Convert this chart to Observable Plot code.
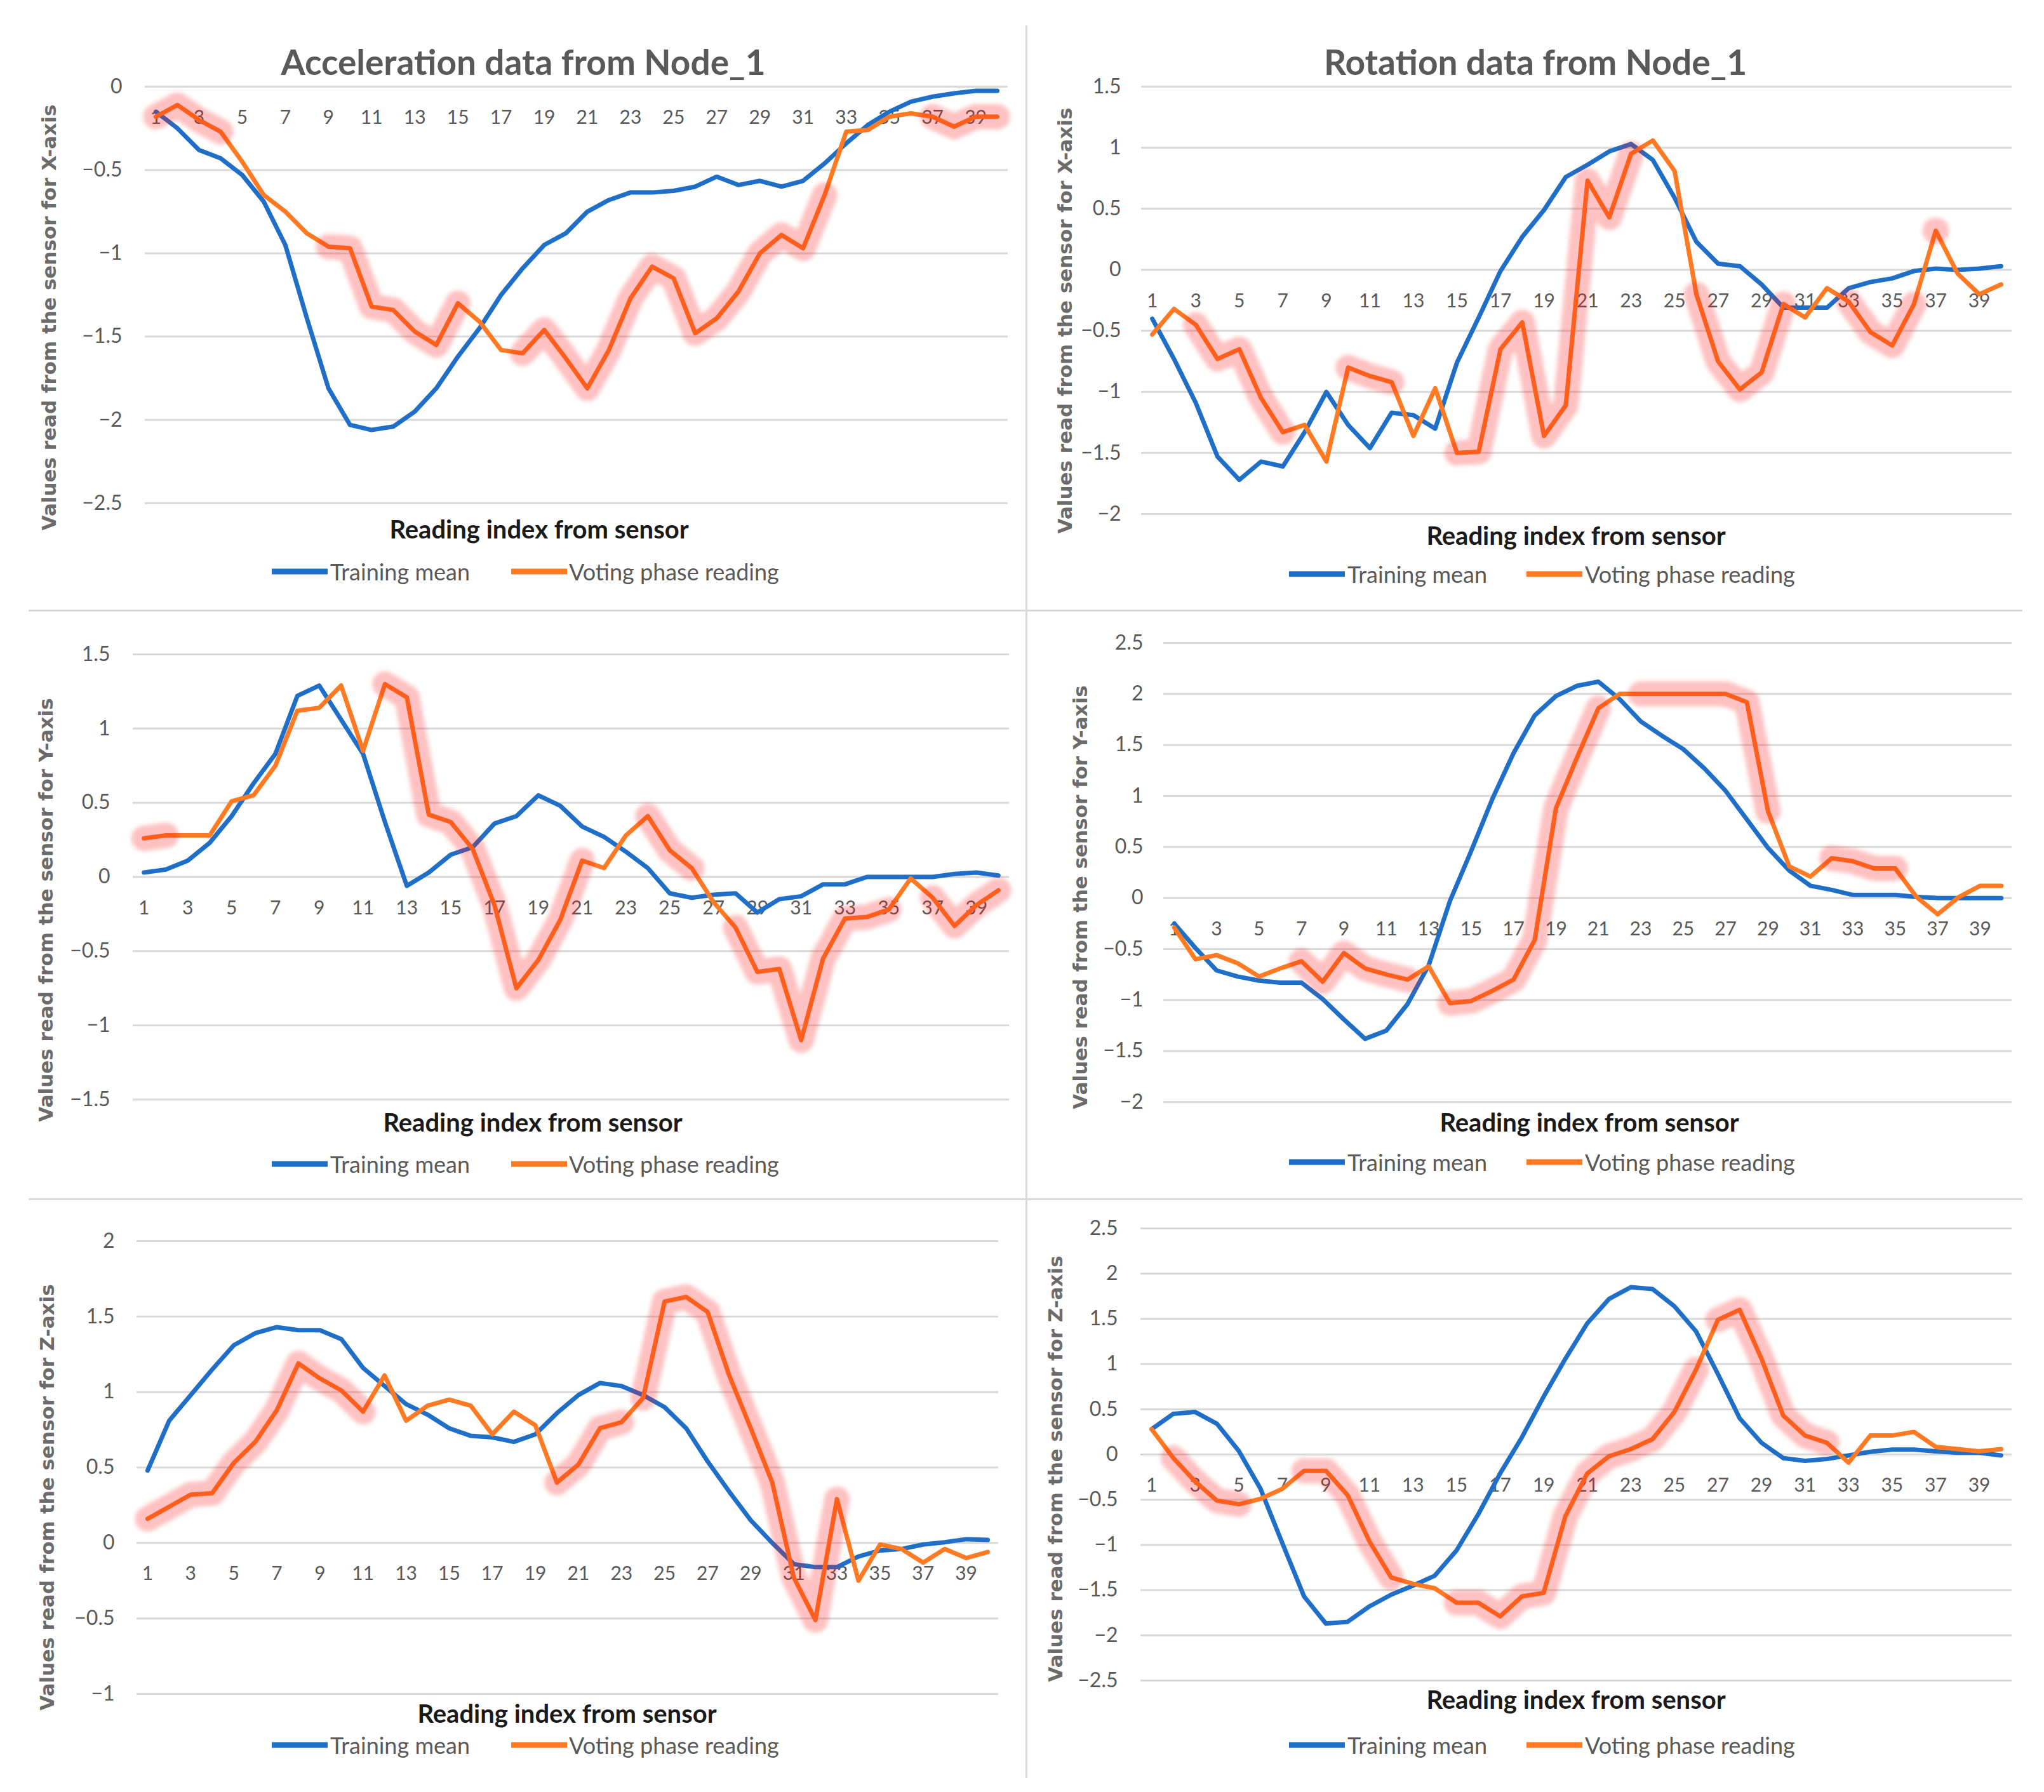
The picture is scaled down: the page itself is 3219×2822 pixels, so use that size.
<!DOCTYPE html>
<html><head><meta charset="utf-8">
<script src="https://cdn.jsdelivr.net/npm/d3@7"></script>
<script src="https://cdn.jsdelivr.net/npm/@observablehq/plot@0.6"></script>
<style>
html,body{margin:0;padding:0;background:#fff;}
#page{position:relative;width:3219px;height:2822px;overflow:hidden;background:#fff;}
.abs{position:absolute;white-space:nowrap;line-height:1;}
.title{font-family:Lato,sans-serif;font-weight:700;font-size:55px;color:#595959;transform:translate(-50%,-50%);}
.xtitle{font-family:Lato,sans-serif;font-weight:700;font-size:40px;color:#1a1a1a;transform:translate(-50%,-50%);}
.ytitle{font-family:"DejaVu Sans",sans-serif;font-weight:700;font-size:31px;color:#6b6b6b;transform:translate(-50%,-50%) rotate(-90deg);}
.leg{font-family:Lato,sans-serif;font-size:36px;color:#595959;transform:translateY(-50%);}
.sw{position:absolute;height:9px;transform:translateY(-50%);}
.rule{position:absolute;background:#d9d9d9;}
svg{position:absolute;}
</style></head><body><div id="page"></div>
<script>
// ---------- data ----------
const readingIndex = [1,2,3,4,5,6,7,8,9,10,11,12,13,14,15,16,17,18,19,20,21,22,23,24,25,26,27,28,29,30,31,32,33,34,35,36,37,38,39,40];
const xTickLabels = [1,3,5,7,9,11,13,15,17,19,21,23,25,27,29,31,33,35,37,39];
const seriesNames = ["Training mean", "Voting phase reading"];

const accXMean = [-0.15,-0.25,-0.38,-0.43,-0.53,-0.69,-0.95,-1.39,-1.81,-2.03,-2.06,-2.04,-1.95,-1.81,-1.62,-1.45,-1.25,-1.09,-0.95,-0.88,-0.75,-0.68,-0.635,-0.635,-0.625,-0.60,-0.54,-0.59,-0.565,-0.60,-0.565,-0.46,-0.34,-0.23,-0.15,-0.09,-0.06,-0.04,-0.025,-0.025];
const accXVote = [-0.18,-0.11,-0.20,-0.27,-0.45,-0.65,-0.75,-0.88,-0.96,-0.97,-1.32,-1.34,-1.47,-1.55,-1.30,-1.41,-1.58,-1.60,-1.46,-1.63,-1.81,-1.58,-1.27,-1.08,-1.15,-1.48,-1.39,-1.23,-1.00,-0.89,-0.97,-0.65,-0.27,-0.26,-0.18,-0.16,-0.18,-0.24,-0.18,-0.18];
const rotXMean = [-0.40,-0.73,-1.09,-1.53,-1.72,-1.57,-1.61,-1.33,-1.00,-1.27,-1.46,-1.17,-1.19,-1.30,-0.76,-0.39,-0.01,0.27,0.49,0.76,0.86,0.97,1.03,0.90,0.59,0.23,0.05,0.03,-0.12,-0.31,-0.31,-0.31,-0.15,-0.10,-0.07,-0.01,0.01,0.0,0.01,0.03];
const rotXVote = [-0.53,-0.32,-0.45,-0.73,-0.65,-1.05,-1.33,-1.27,-1.57,-0.80,-0.87,-0.92,-1.36,-0.97,-1.50,-1.49,-0.65,-0.43,-1.36,-1.11,0.73,0.43,0.95,1.06,0.81,-0.20,-0.75,-0.98,-0.84,-0.28,-0.39,-0.15,-0.26,-0.51,-0.62,-0.28,0.32,-0.03,-0.20,-0.12];
const accYMean = [0.03,0.05,0.11,0.23,0.41,0.63,0.83,1.22,1.29,1.06,0.83,0.37,-0.06,0.03,0.15,0.20,0.36,0.41,0.55,0.48,0.34,0.27,0.17,0.06,-0.11,-0.14,-0.12,-0.11,-0.24,-0.15,-0.13,-0.05,-0.05,0.0,0.0,0.0,0.0,0.02,0.03,0.01];
const accYVote = [0.26,0.28,0.28,0.28,0.51,0.55,0.75,1.12,1.14,1.29,0.85,1.30,1.21,0.42,0.37,0.19,-0.19,-0.75,-0.56,-0.29,0.11,0.06,0.28,0.41,0.18,0.06,-0.17,-0.34,-0.64,-0.62,-1.10,-0.55,-0.28,-0.27,-0.22,-0.01,-0.14,-0.33,-0.19,-0.09];
const rotYMean = [-0.25,-0.49,-0.71,-0.77,-0.81,-0.83,-0.83,-0.99,-1.19,-1.38,-1.30,-1.04,-0.66,-0.03,0.46,0.97,1.42,1.79,1.98,2.08,2.12,1.95,1.73,1.59,1.46,1.27,1.05,0.77,0.49,0.27,0.12,0.08,0.03,0.03,0.03,0.01,0.0,0.0,0.0,0.0];
const rotYVote = [-0.29,-0.60,-0.56,-0.64,-0.77,-0.69,-0.62,-0.82,-0.54,-0.69,-0.75,-0.80,-0.67,-1.03,-1.01,-0.91,-0.80,-0.41,0.88,1.38,1.86,2.0,2.0,2.0,2.0,2.0,2.0,1.92,0.85,0.31,0.21,0.39,0.36,0.29,0.29,0.01,-0.16,0.01,0.12,0.12];
const accZMean = [0.48,0.81,0.98,1.15,1.31,1.39,1.43,1.41,1.41,1.35,1.16,1.04,0.92,0.85,0.76,0.71,0.70,0.67,0.72,0.86,0.98,1.06,1.04,0.98,0.90,0.76,0.54,0.34,0.15,0.0,-0.14,-0.16,-0.16,-0.09,-0.05,-0.04,-0.01,0.005,0.025,0.02];
const accZVote = [0.16,0.24,0.32,0.33,0.53,0.67,0.88,1.19,1.09,1.01,0.87,1.11,0.81,0.91,0.95,0.91,0.72,0.87,0.78,0.40,0.52,0.76,0.80,0.96,1.60,1.63,1.53,1.11,0.76,0.40,-0.23,-0.51,0.29,-0.25,-0.01,-0.04,-0.13,-0.04,-0.10,-0.06];
const rotZMean = [0.28,0.45,0.47,0.34,0.04,-0.38,-0.98,-1.57,-1.87,-1.85,-1.68,-1.55,-1.45,-1.34,-1.06,-0.66,-0.21,0.19,0.64,1.06,1.45,1.72,1.85,1.83,1.64,1.36,0.89,0.40,0.13,-0.04,-0.07,-0.05,-0.01,0.03,0.055,0.055,0.035,0.02,0.02,-0.01];
const rotZVote = [0.28,-0.04,-0.30,-0.51,-0.55,-0.49,-0.38,-0.18,-0.18,-0.45,-0.96,-1.36,-1.43,-1.48,-1.64,-1.64,-1.79,-1.57,-1.53,-0.68,-0.21,-0.02,0.06,0.17,0.47,0.94,1.49,1.60,1.06,0.43,0.21,0.13,-0.09,0.21,0.21,0.25,0.085,0.06,0.035,0.06];

// hand-drawn highlight spans over the voting reading (reading index ranges)
const accXMarks = [[1,4],[9,15],[18,32],[37,40]];
const rotXMarks = [[3,7],[10,12],[15,23],[26,30],[33,36],[37,37]];
const accYMarks = [[1,2],[12,21],[24,26],[28,35],[37,40]];
const rotYMarks = [[7,12],[14,21],[23,29],[32,35]];
const accZMarks = [[1,11],[20,23],[24,33]];
const rotZMarks = [[2,5],[8,12],[15,26],[27,32]];

const ticksX = [-2.5,-2,-1.5,-1,-0.5,0];
const ticksRotX = [-2,-1.5,-1,-0.5,0,0.5,1,1.5];
const ticksAccY = [-1.5,-1,-0.5,0,0.5,1,1.5];
const ticksRotY = [-2,-1.5,-1,-0.5,0,0.5,1,1.5,2,2.5];
const ticksAccZ = [-1,-0.5,0,0.5,1,1.5,2];
const ticksRotZ = [-2.5,-2,-1.5,-1,-0.5,0,0.5,1,1.5,2,2.5];

const titles = ["Acceleration data from Node_1", "Rotation data from Node_1"];
const xTitle = "Reading index from sensor";
const yTitles = ["Values read from the sensor for X-axis","Values read from the sensor for X-axis","Values read from the sensor for Y-axis","Values read from the sensor for Y-axis","Values read from the sensor for Z-axis","Values read from the sensor for Z-axis"];

// ---------- layout ----------
const BLUE = "#1f6fc8", ORANGE = "#ff7a22";
const panels = [
  {mean: accXMean, vote: accXVote, marks: accXMarks, ticks: ticksX, px: 0, x0: 228, x1: 1587, y0: 136, y1: 792, pad: 36, title: titles[0], tx: 824, ty: 97, xtx: 849, xty: 833, ytx: 77, yty: 500, ly: 900},
  {mean: rotXMean, vote: rotXVote, marks: rotXMarks, ticks: ticksRotX, px: 1610, x0: 1797, x1: 3168, y0: 136, y1: 809, pad: 32, title: titles[1], tx: 2418, ty: 97, xtx: 2482, xty: 843, ytx: 1677, yty: 505, ly: 904},
  {mean: accYMean, vote: accYVote, marks: accYMarks, ticks: ticksAccY, px: 0, x0: 209, x1: 1589, y0: 1030, y1: 1731, pad: 36, xtx: 839, xty: 1767, ytx: 72, yty: 1433, ly: 1833},
  {mean: rotYMean, vote: rotYVote, marks: rotYMarks, ticks: ticksRotY, px: 1610, x0: 1832, x1: 3168, y0: 1012, y1: 1735, pad: 32, xtx: 2503, xty: 1767, ytx: 1701, yty: 1413, ly: 1830},
  {mean: accZMean, vote: accZVote, marks: accZMarks, ticks: ticksAccZ, px: 0, x0: 215, x1: 1572, y0: 1954, y1: 2667, pad: 35, xtx: 893, xty: 2698, ytx: 74, yty: 2358, ly: 2748},
  {mean: rotZMean, vote: rotZVote, marks: rotZMarks, ticks: ticksRotZ, px: 1610, x0: 1796, x1: 3168, y0: 1934, y1: 2646, pad: 36, xtx: 2482, xty: 2676, ytx: 1662, yty: 2313, ly: 2748}
];

const page = document.getElementById("page");
function add(cls, txt, left, top, style) {
  const d = document.createElement("div");
  d.className = "abs " + cls;
  d.textContent = txt;
  d.style.left = left + "px"; d.style.top = top + "px";
  if (style) Object.assign(d.style, style);
  page.appendChild(d);
  return d;
}
function rule(left, top, w, h) {
  const d = document.createElement("div");
  d.className = "rule";
  Object.assign(d.style, {left: left + "px", top: top + "px", width: w + "px", height: h + "px"});
  page.appendChild(d);
}
rule(1615, 40, 3, 2760);
rule(45, 960, 3140, 3);
rule(45, 1887, 3140, 3);

const fmt = d => d === 0 ? "0" : (d < 0 ? "\u2212" : "") + Math.abs(d);

panels.forEach((p, k) => {
  const mt = 30, mb = 30;
  const W = p.px === 0 ? 1610 : 1609;
  const H = (p.y1 - p.y0) + mt + mb;
  const meanRows = readingIndex.map((i, j) => ({i, v: p.mean[j]}));
  const voteRows = readingIndex.map((i, j) => ({i, v: p.vote[j]}));
  const hl = p.marks.flatMap(([a, b], s) => readingIndex.filter(i => i >= a && i <= b).map(i => ({i, v: p.vote[i - 1], seg: s, n: b - a})));
  const hlLines = hl.filter(d => d.n > 0);
  const hlDots = hl.filter(d => d.n === 0);
  const svg = Plot.plot({
    width: W, height: H,
    marginLeft: p.x0 - p.px, marginRight: p.px + W - p.x1, marginTop: mt, marginBottom: mb,
    style: {fontFamily: "Lato, sans-serif", fontSize: "32px", color: "#595959", background: "transparent", overflow: "visible"},
    x: {domain: [0.5, 40.5], axis: null},
    y: {domain: [p.ticks[0], p.ticks[p.ticks.length - 1]], ticks: p.ticks, tickFormat: fmt, tickSize: 0, tickPadding: p.pad, label: null},
    marks: [
      Plot.ruleY(p.ticks, {stroke: "#d9d9d9", strokeWidth: 3}),
      Plot.text(xTickLabels, {x: d => d, y: () => 0, dy: 49, text: d => String(d), fill: "#595959", fontSize: 30}),
      Plot.line(meanRows, {x: "i", y: "v", stroke: BLUE, strokeWidth: 7, strokeLinejoin: "round", strokeLinecap: "round"}),
      Plot.line(voteRows, {x: "i", y: "v", stroke: ORANGE, strokeWidth: 7, strokeLinejoin: "round", strokeLinecap: "round"}),
      Plot.line(hlLines, {x: "i", y: "v", z: "seg", stroke: "#ff1010", strokeOpacity: 0.26, strokeWidth: 40, strokeLinejoin: "round", strokeLinecap: "round", ariaDescription: "highlight"}),
      Plot.dot(hlDots, {x: "i", y: "v", r: 21, fill: "#ff1010", fillOpacity: 0.26, stroke: "none", ariaDescription: "highlight"})
    ]
  });
  svg.style.left = p.px + "px";
  svg.style.top = (p.y0 - mt) + "px";
  svg.querySelectorAll('[aria-description="highlight"]').forEach(g => g.style.filter = "blur(3px)");
  page.appendChild(svg);

  if (p.title) add("title", p.title, p.tx, p.ty);
  add("xtitle", xTitle, p.xtx, p.xty);
  add("ytitle", yTitles[k], p.ytx, p.yty);
  const lx = p.px === 0 ? [428, 520, 805, 896] : [2030, 2122, 2404, 2496];
  const s1 = document.createElement("div"); s1.className = "sw";
  Object.assign(s1.style, {left: lx[0] + "px", top: p.ly + "px", width: "88px", background: BLUE});
  page.appendChild(s1);
  add("leg", seriesNames[0], lx[1], p.ly);
  const s2 = document.createElement("div"); s2.className = "sw";
  Object.assign(s2.style, {left: lx[2] + "px", top: p.ly + "px", width: "88px", background: ORANGE});
  page.appendChild(s2);
  add("leg", seriesNames[1], lx[3], p.ly);
});
</script>
</body></html>
